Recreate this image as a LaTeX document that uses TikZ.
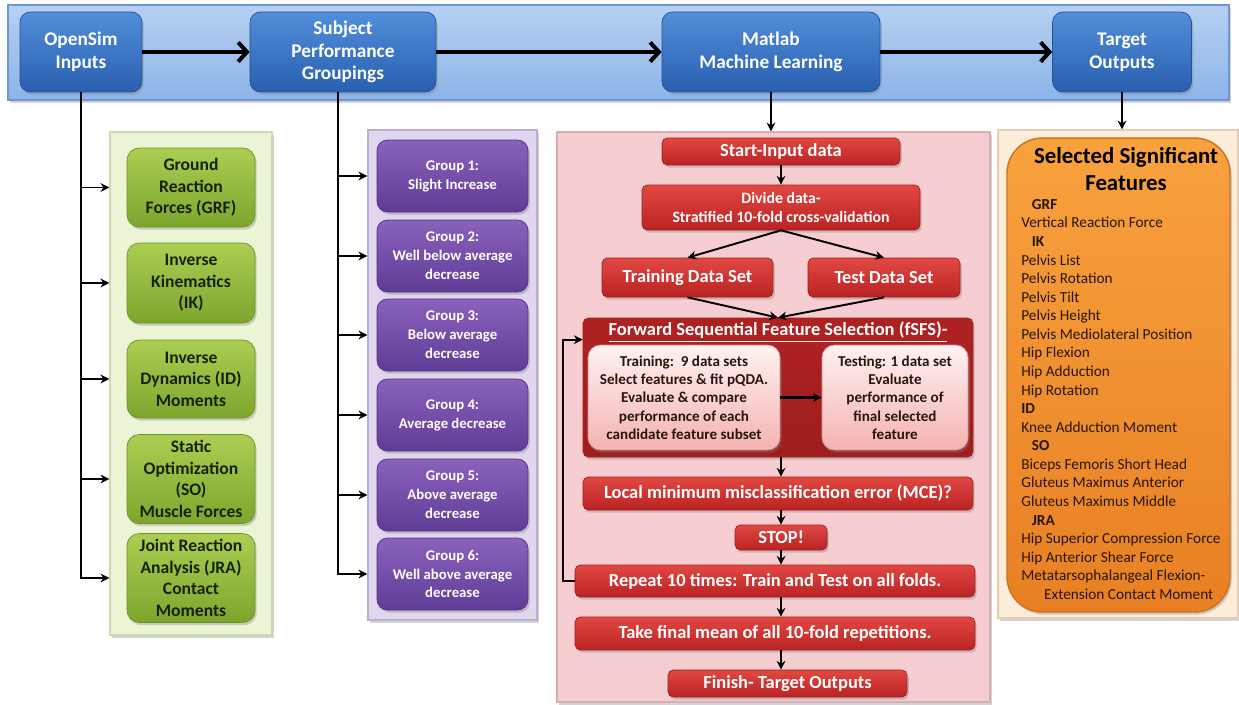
\documentclass[tikz,border=0pt]{standalone}
\usepackage{fontspec}
\setmainfont{Carlito}
\usetikzlibrary{positioning, arrows.meta, calc, shadows}
\definecolor{band_top}{RGB}{182,208,242}
\definecolor{band_bot}{RGB}{140,180,232}
\definecolor{band_edge}{RGB}{110,150,210}
\definecolor{stage_top}{RGB}{82,142,218}
\definecolor{stage_bot}{RGB}{40,95,175}
\definecolor{stage_edge}{RGB}{35,80,150}
\definecolor{gpan_fill}{RGB}{236,244,214}
\definecolor{gpan_edge}{RGB}{205,218,175}
\definecolor{gbox_top}{RGB}{172,206,82}
\definecolor{gbox_bot}{RGB}{125,165,45}
\definecolor{gbox_edge}{RGB}{110,145,40}
\definecolor{gbox_text}{RGB}{25,32,10}
\definecolor{ppan_fill}{RGB}{224,214,238}
\definecolor{ppan_edge}{RGB}{185,175,205}
\definecolor{pbox_top}{RGB}{138,98,188}
\definecolor{pbox_bot}{RGB}{95,60,150}
\definecolor{pbox_edge}{RGB}{80,50,130}
\definecolor{rpan_fill}{RGB}{246,205,208}
\definecolor{rpan_edge}{RGB}{215,175,178}
\definecolor{rbox_top}{RGB}{226,72,66}
\definecolor{rbox_bot}{RGB}{185,35,35}
\definecolor{rbox_edge}{RGB}{160,30,30}
\definecolor{sub_top}{RGB}{255,242,242}
\definecolor{sub_bot}{RGB}{245,178,178}
\definecolor{sub_edge}{RGB}{220,140,140}
\definecolor{opan_fill}{RGB}{252,236,218}
\definecolor{opan_edge}{RGB}{225,205,185}
\definecolor{obox_top}{RGB}{248,162,62}
\definecolor{obox_bot}{RGB}{232,128,35}
\definecolor{obox_edge}{RGB}{205,115,30}
\definecolor{dark_text}{RGB}{40,22,10}

\begin{document}
\begin{tikzpicture}[x=0.02cm, y=-0.02cm, >=Stealth,
      shdw/.style={drop shadow={shadow xshift=1pt, shadow yshift=-1.5pt, opacity=0.35}},
      panel/.style={draw, line width=0.8pt, shdw},
      stage/.style={draw=stage_edge, rounded corners=6pt, top color=stage_top, bottom color=stage_bot, text=white, align=center,
                    font=\fontsize{11}{13}\selectfont\bfseries, minimum height=1.6cm, shdw},
      gbox/.style={draw=gbox_edge, rounded corners=7pt, top color=gbox_top, bottom color=gbox_bot, text=gbox_text, align=center,
                   font=\fontsize{10}{12.3}\selectfont\bfseries, minimum width=2.56cm, minimum height=1.6cm, shdw},
      pbox/.style={draw=pbox_edge, rounded corners=6pt, top color=pbox_top, bottom color=pbox_bot, text=white, align=center,
                   font=\fontsize{8.4}{10.8}\selectfont\bfseries, minimum width=3.02cm, minimum height=1.44cm, shdw},
      rbox/.style={draw=rbox_edge, rounded corners=3pt, top color=rbox_top, bottom color=rbox_bot, text=white, align=center,
                   font=\fontsize{10.5}{12}\selectfont\bfseries, inner sep=1pt, shdw},
      sbox/.style={draw=sub_edge, rounded corners=7pt, top color=sub_top, bottom color=sub_bot, text=dark_text, align=center,
                   font=\fontsize{8.6}{10.4}\selectfont\bfseries, minimum height=2.1cm, shdw},
      arr/.style={-{Stealth[length=5pt, width=5pt]}, line width=1.1pt},
      bigarr/.style={-{Straight Barb[length=5pt, width=11pt]}, line width=2.3pt}]
    \useasboundingbox (0,0) rectangle (1239,704);
    % top band with the four stages
    \node[panel, draw=band_edge, top color=band_top, bottom color=band_bot, minimum width=24.42cm, minimum height=1.9cm] (band) at (618.5,52.5) {};
    \node[stage, minimum width=2.44cm] (inp) at (81,52)   {OpenSim\\Inputs};
    \node[stage, minimum width=3.72cm] (grp) at (343,52)  {Subject\\Performance\\Groupings};
    \node[stage, minimum width=4.36cm] (mat) at (771,52)  {Matlab\\Machine Learning};
    \node[stage, minimum width=2.78cm] (tgt) at (1122,52) {Target\\Outputs};
    \draw[bigarr] (inp) -- (grp);
    \draw[bigarr] (grp) -- (mat);
    \draw[bigarr] (mat) -- (tgt);

    % OpenSim inputs
    \node[panel, draw=gpan_edge, fill=gpan_fill, minimum width=3.24cm, minimum height=10.06cm] (gpan) at (191,383.5) {};
    \node[gbox, minimum height=1.58cm] (g1) at (191,187.5) {Ground\\Reaction\\Forces (GRF)};
    \node[gbox]                        (g2) at (191,283)   {Inverse\\Kinematics\\(IK)};
    \node[gbox, minimum height=1.56cm] (g3) at (191,379)   {Inverse\\Dynamics (ID)\\Moments};
    \node[gbox, minimum height=1.76cm] (g4) at (191,479)   {Static\\Optimization\\(SO)\\Muscle Forces};
    \node[gbox]                        (g5) at (191,578)   {Joint Reaction\\Analysis (JRA)\\Contact\\Moments};
    \foreach \k in {1,...,5}
      \draw[arr] (inp.south) |- (gpan.west |- g\k);

    % performance groupings
    \node[panel, draw=ppan_edge, fill=ppan_fill, minimum width=3.38cm, minimum height=9.8cm] (ppan) at (452.5,375) {};
    \node[pbox] (p1) at (452.5,176) {Group 1:\\Slight Increase};
    \node[pbox] (p2) at (452.5,256) {Group 2:\\Well below average\\decrease};
    \node[pbox] (p3) at (452.5,335) {Group 3:\\Below average\\decrease};
    \node[pbox] (p4) at (452.5,415) {Group 4:\\Average decrease};
    \node[pbox] (p5) at (452.5,495) {Group 5:\\Above average\\decrease};
    \node[pbox] (p6) at (452.5,574) {Group 6:\\Well above average\\decrease};
    \foreach \k in {1,...,6}
      \draw[arr] ($(grp.south)+(-5,0)$) |- (ppan.west |- p\k);

    % machine learning flow
    \node[panel, draw=rpan_edge, fill=rpan_fill, minimum width=8.66cm, minimum height=11.4cm] (rpan) at (773.5,417) {};
    \node[rbox, minimum width=4.76cm, minimum height=0.54cm] (start) at (781,151.5) {Start-Input data};
    \node[rbox, minimum width=5.56cm, minimum height=0.9cm, font=\fontsize{9}{11}\selectfont\bfseries] (divide) at (781,207.5) {Divide data-\\Stratified 10-fold cross-validation};
    \node[rbox, minimum width=3.42cm, minimum height=0.78cm] (train) at (687.5,277.5) {Training Data Set};
    \node[rbox, minimum width=3.04cm, minimum height=0.78cm] (test)  at (884,277.5)   {Test Data Set};
    \node[rbox, minimum width=7.8cm, minimum height=2.78cm, top color=rbox_bot!95!black, bottom color=rbox_bot!85!black] (fsfs) at (778,387.5) {};
    \node[font=\fontsize{10.5}{12}\selectfont\bfseries, text=white] (fsfstitle) at (778,332) {\underline{Forward Sequential Feature Selection (fSFS)-}};
    \node[sbox, minimum width=3.84cm] (trn) at (684,397.5) {Training:\ \ 9 data sets\\Select features \& fit pQDA.\\Evaluate \& compare\\performance of each\\candidate feature subset};
    \node[sbox, minimum width=2.92cm] (tst) at (895,397.5) {Testing: 1 data set\\Evaluate\\performance of\\final selected\\feature};
    \node[rbox, minimum width=7.8cm, minimum height=0.66cm] (lmin) at (778,493.5) {Local minimum misclassification error (MCE)?};
    \node[rbox, minimum width=1.84cm, minimum height=0.5cm]  (stop) at (781,537.5) {STOP!};
    \node[rbox, minimum width=8cm, minimum height=0.64cm]    (rep)  at (775,581)   {Repeat 10 times: Train and Test on all folds.};
    \node[rbox, minimum width=8cm, minimum height=0.66cm]    (mean) at (775,633.5) {Take final mean of all 10-fold repetitions.};
    \node[rbox, minimum width=4.78cm, minimum height=0.54cm] (fin)  at (787.5,683.5) {Finish- Target Outputs};
    \draw[arr] (mat) -- (mat |- rpan.north);
    \draw[arr] (start) -- (divide);
    \draw[arr] (divide.south) -- (train.north);
    \draw[arr] (divide.south) -- (test.north);
    \draw[arr] (train.south) -- (fsfs.north);
    \draw[arr] (test.south) -- (fsfs.north);
    \draw[arr, line width=1.4pt] (trn) -- (tst);
    \draw[arr] (fsfs.south -| start) -- (lmin.north -| start);
    \draw[arr] (lmin.south -| start) -- (stop.north);
    \draw[arr] (stop.south) -- (rep.north -| start);
    \draw[arr] (rep.south -| start) -- (mean.north -| start);
    \draw[arr] (mean.south -| start) -- (fin.north -| start);
    \draw[arr] (rep.west) -- ++(-12,0) |- ($(fsfs.north west)+(0,22)$);

    % selected features
    \node[panel, draw=opan_edge, fill=opan_fill, minimum width=4.8cm, minimum height=9.76cm] (opan) at (1118,374) {};
    \node[draw=obox_edge, line width=0.8pt, rounded corners=20pt, top color=obox_top, bottom color=obox_bot, minimum width=4.46cm, minimum height=9.48cm, shdw] (obox) at (1118.5,375) {};
    \node[font=\fontsize{13}{15}\selectfont\bfseries, text=black, align=center] (otitle) at (1126,169) {Selected Significant\\Features};
    \node[anchor=north west, inner sep=0pt, align=left, text=dark_text, font=\fontsize{8.7}{10.57}\selectfont] (olist) at (1021,199) {%
      \hspace*{6pt}\textbf{GRF}\\
      Vertical Reaction Force\\
      \hspace*{6pt}\textbf{IK}\\
      Pelvis List\\
      Pelvis Rotation\\
      Pelvis Tilt\\
      Pelvis Height\\
      Pelvis Mediolateral Position\\
      Hip Flexion\\
      Hip Adduction\\
      Hip Rotation\\
      \textbf{ID}\\
      Knee Adduction Moment\\
      \hspace*{6pt}\textbf{SO}\\
      Biceps Femoris Short Head\\
      Gluteus Maximus Anterior\\
      Gluteus Maximus Middle\\
      \hspace*{6pt}\textbf{JRA}\\
      Hip Superior Compression Force\\
      Hip Anterior Shear Force\\
      Metatarsophalangeal Flexion-\\
      \hspace*{13pt}Extension Contact Moment};
    \draw[arr] (tgt) -- (tgt |- opan.north);
  \end{tikzpicture}
\end{document}
